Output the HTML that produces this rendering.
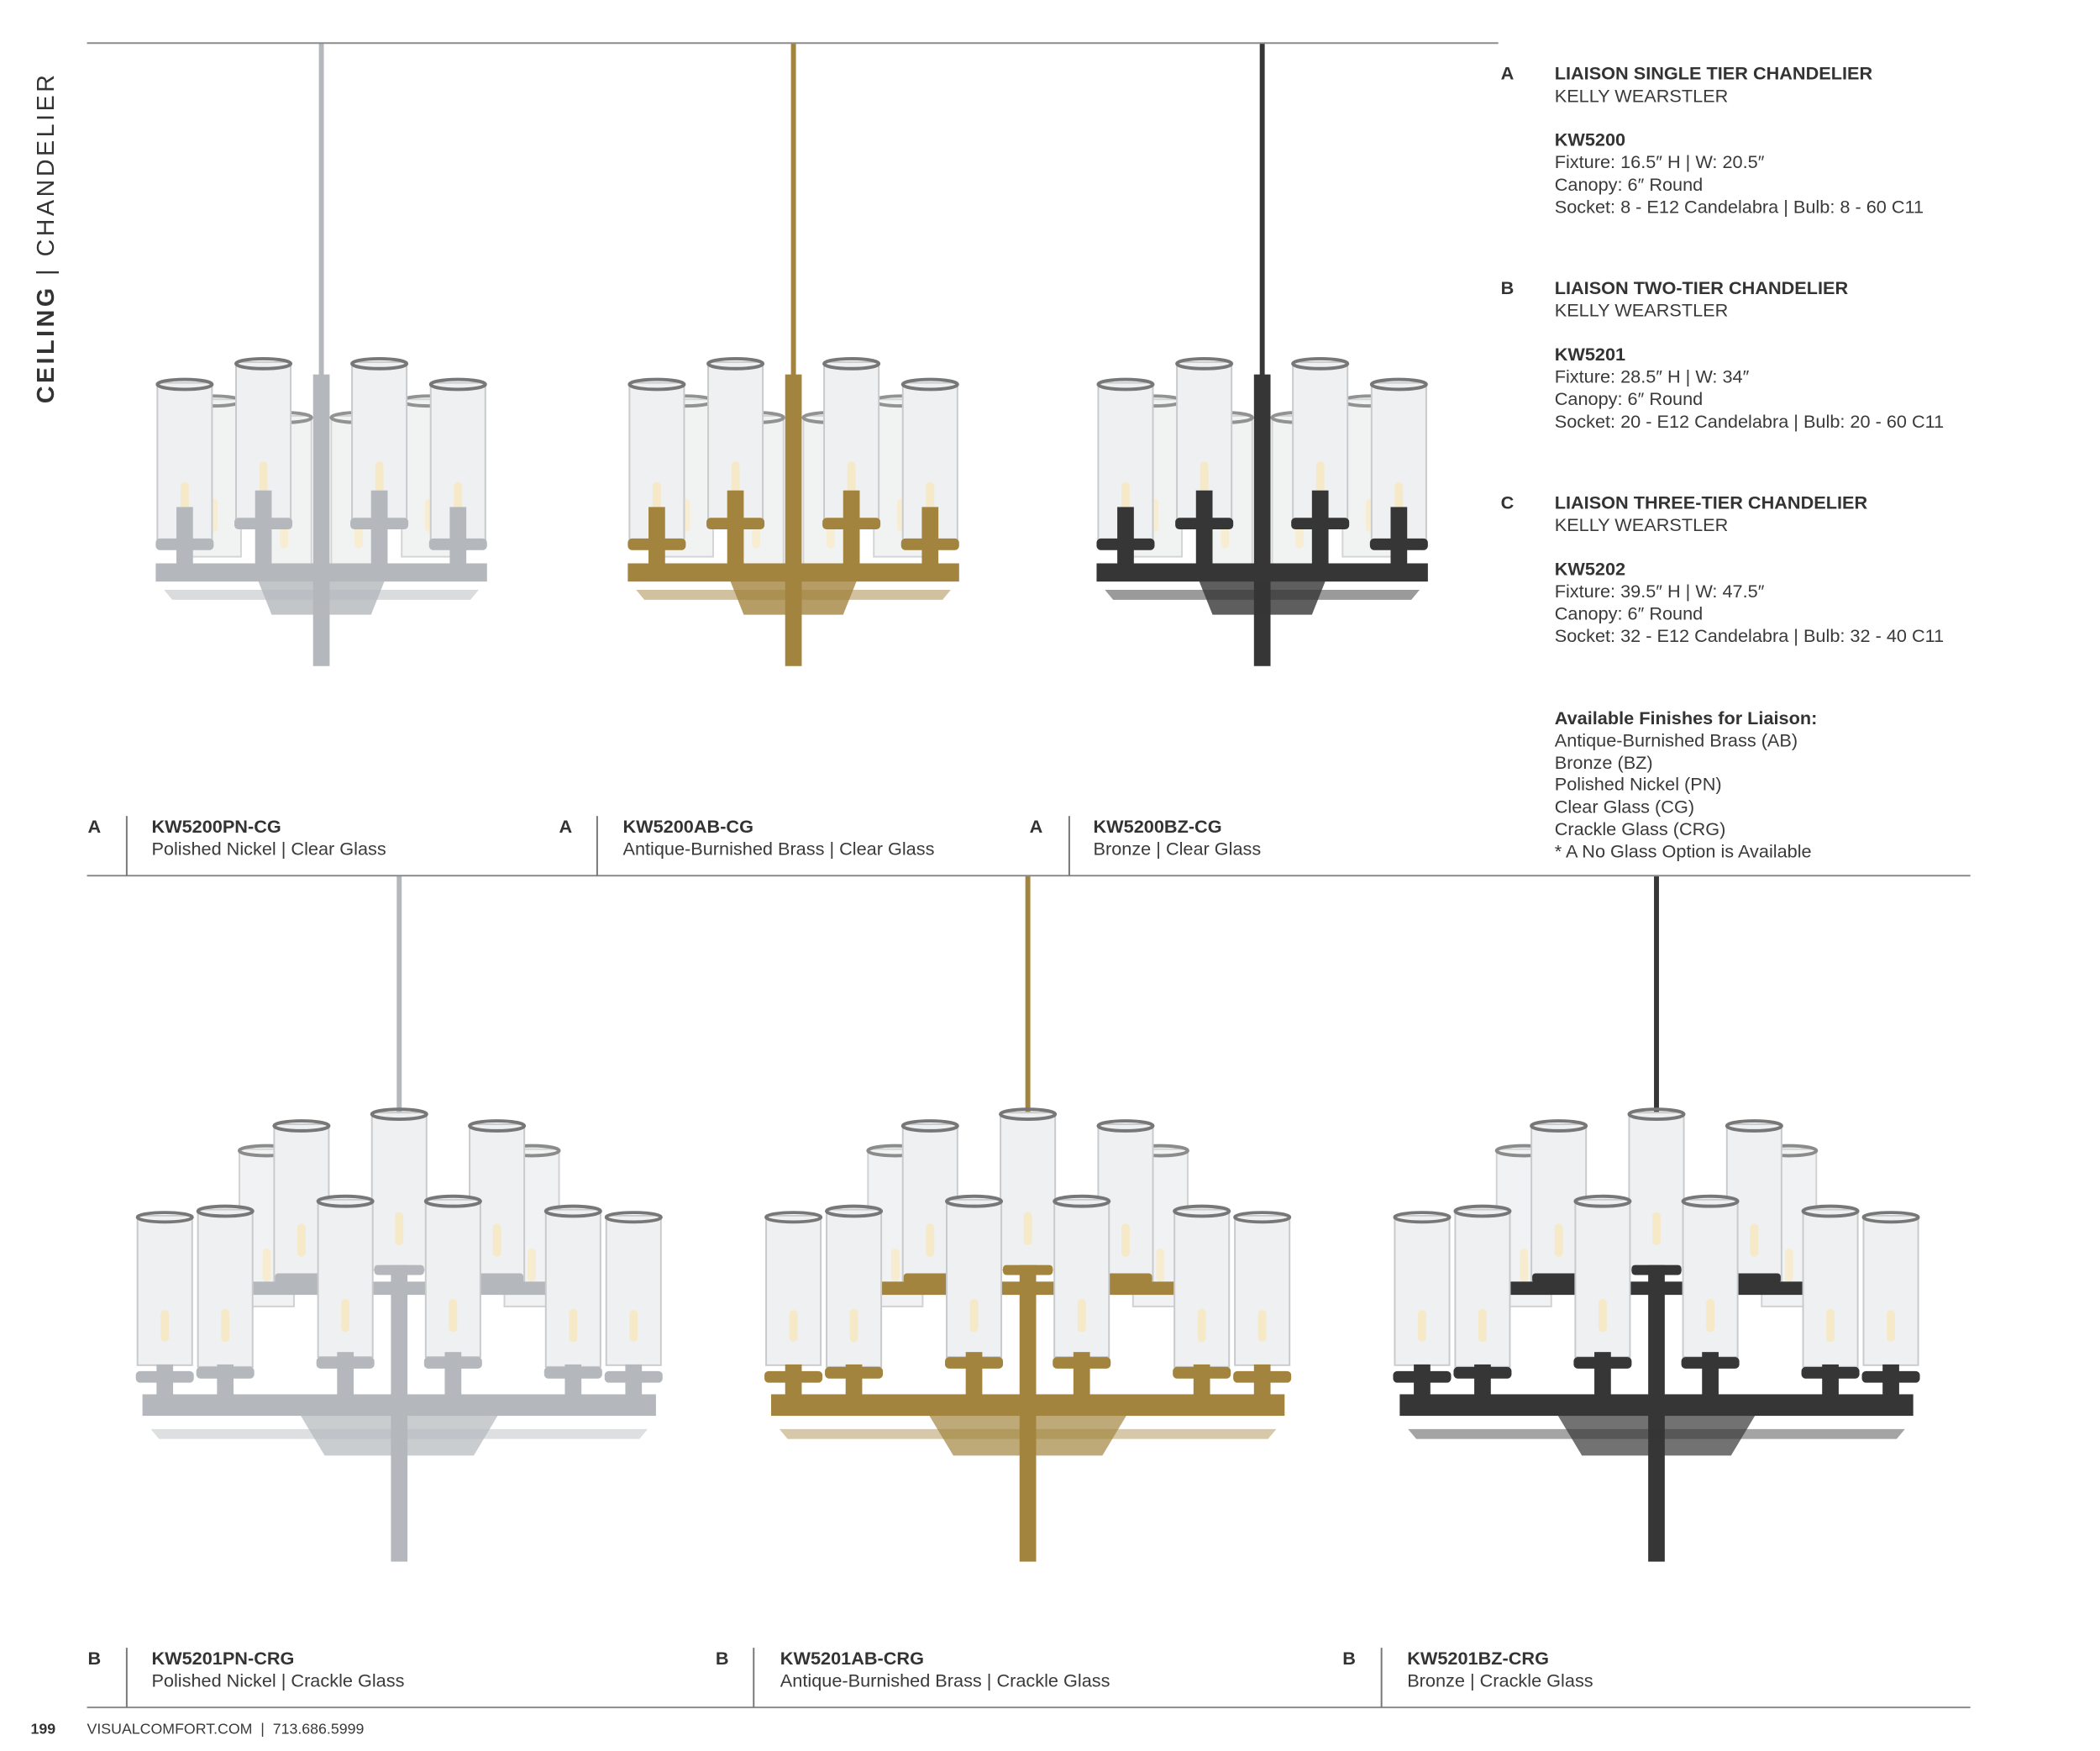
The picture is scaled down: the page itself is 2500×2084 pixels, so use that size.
<!DOCTYPE html>
<html><head><meta charset="utf-8"><style>
body{margin:0;width:2500px;height:2084px;background:#fff;position:relative;overflow:hidden;font-family:"Liberation Sans",sans-serif;color:#3a3a3a}
#w{position:absolute;left:0;top:0;width:2536px;height:2114px;transform:scale(0.986);transform-origin:0 0}
.t{position:absolute;font-size:22px;line-height:26.8px;white-space:nowrap}
b{font-weight:bold;color:#333}
.hl{position:absolute;height:2px;background:#8a8a8a}
.vl{position:absolute;width:2px;background:#777}
svg{position:absolute;left:0;top:0}
</style></head><body><div id="w">
<svg width="2536" height="2114" viewBox="0 0 2536 2114">
<defs>
<g id="cyl">
<rect x="-33" y="0" width="66" height="190" fill="#eef0f1" stroke="#c8cacc" stroke-width="2"/>
<ellipse cx="0" cy="2" rx="33" ry="6" fill="none" stroke="#777" stroke-width="4"/>
<rect x="-5" y="120" width="10" height="40" rx="5" fill="#f6e9c8"/>
</g>
<g id="A">
<rect x="-3" y="0" width="6" height="420" fill="currentColor"/>
<use href="#cyl" x="-130" y="430" opacity="0.8"/>
<use href="#cyl" x="-45" y="450" opacity="0.8"/>
<use href="#cyl" x="45" y="450" opacity="0.8"/>
<use href="#cyl" x="130" y="430" opacity="0.8"/>
<rect x="-10" y="400" width="20" height="352" fill="currentColor"/>
<polygon points="-190,660 190,660 180,672 -180,672" fill="currentColor" opacity="0.5"/>
<polygon points="-80,640 80,640 60,690 -60,690" fill="currentColor" opacity="0.8"/>
<rect x="-200" y="628" width="400" height="22" fill="currentColor"/>
<use href="#cyl" x="-165" y="410"/>
<use href="#cyl" x="-70" y="385"/>
<use href="#cyl" x="70" y="385"/>
<use href="#cyl" x="165" y="410"/>
<g fill="currentColor">
<rect x="-200" y="598" width="70" height="14" rx="5"/><rect x="-175" y="560" width="20" height="70"/>
<rect x="-105" y="573" width="70" height="14" rx="5"/><rect x="-80" y="540" width="20" height="90"/>
<rect x="35" y="573" width="70" height="14" rx="5"/><rect x="60" y="540" width="20" height="90"/>
<rect x="130" y="598" width="70" height="14" rx="5"/><rect x="155" y="560" width="20" height="70"/>
</g>
</g>
<g id="B">
<rect x="-3" y="0" width="6" height="290" fill="currentColor"/>
<use href="#cyl" x="-160" y="330" opacity="0.85"/>
<use href="#cyl" x="160" y="330" opacity="0.85"/>
<use href="#cyl" x="-118" y="300"/>
<use href="#cyl" x="118" y="300"/>
<use href="#cyl" x="0" y="286"/>
<rect x="-10" y="470" width="20" height="358" fill="currentColor"/>
<g fill="currentColor">
<rect x="-180" y="490" width="360" height="16"/>
<rect x="-150" y="480" width="60" height="12" rx="4"/><rect x="-30" y="470" width="60" height="12" rx="4"/><rect x="90" y="480" width="60" height="12" rx="4"/>
</g>
<polygon points="-300,668 300,668 290,680 -290,680" fill="currentColor" opacity="0.45"/>
<polygon points="-120,650 120,650 90,700 -90,700" fill="currentColor" opacity="0.7"/>
<use href="#cyl" x="-283" y="432" transform="scale(1,0.95)" />
<use href="#cyl" x="283" y="432" transform="scale(1,0.95)"/>
<use href="#cyl" x="-210" y="403"/>
<use href="#cyl" x="210" y="403"/>
<use href="#cyl" x="-65" y="391"/>
<use href="#cyl" x="65" y="391"/>
<rect x="-310" y="626" width="620" height="26" fill="currentColor"/>
<g fill="currentColor">
<rect x="-318" y="598" width="70" height="14" rx="5"/><rect x="-293" y="590" width="20" height="40"/>
<rect x="-245" y="593" width="70" height="14" rx="5"/><rect x="-220" y="590" width="20" height="40"/>
<rect x="-100" y="581" width="70" height="14" rx="5"/><rect x="-75" y="575" width="20" height="55"/>
<rect x="30" y="581" width="70" height="14" rx="5"/><rect x="55" y="575" width="20" height="55"/>
<rect x="175" y="593" width="70" height="14" rx="5"/><rect x="200" y="590" width="20" height="40"/>
<rect x="248" y="598" width="70" height="14" rx="5"/><rect x="273" y="590" width="20" height="40"/>
</g>
</g>
</defs>
<use href="#A" x="388" y="52" style="color:#b4b8bc"/>
<use href="#A" x="958" y="52" style="color:#a3843f"/>
<use href="#A" x="1524" y="52" style="color:#363636"/>
<use href="#B" x="482" y="1057" style="color:#b4b8bc"/>
<use href="#B" x="1241" y="1057" style="color:#a3843f"/>
<use href="#B" x="2000" y="1057" style="color:#363636"/>
</svg>

<div class="hl" style="left:105px;top:51px;width:1704px"></div>
<div class="hl" style="left:105px;top:1056px;width:2274px"></div>
<div class="hl" style="left:105px;top:2060px;width:2274px"></div>

<div style="position:absolute;left:40px;top:487px;transform:rotate(-90deg);transform-origin:0 0;font-size:29px;letter-spacing:3.6px;white-space:nowrap;color:#333"><b>CEILING</b> | CHANDELIER</div>

<div class="t" style="left:1812px;top:76px"><b>A</b></div>
<div class="t" style="left:1877px;top:76px"><b>LIAISON SINGLE TIER CHANDELIER</b><br>KELLY WEARSTLER<br><br><b>KW5200</b><br>Fixture: 16.5″ H | W: 20.5″<br>Canopy: 6″ Round<br>Socket: 8 - E12 Candelabra | Bulb: 8 - 60 C11</div>
<div class="t" style="left:1812px;top:335px"><b>B</b></div>
<div class="t" style="left:1877px;top:335px"><b>LIAISON TWO-TIER CHANDELIER</b><br>KELLY WEARSTLER<br><br><b>KW5201</b><br>Fixture: 28.5″ H | W: 34″<br>Canopy: 6″ Round<br>Socket: 20 - E12 Candelabra | Bulb: 20 - 60 C11</div>
<div class="t" style="left:1812px;top:594px"><b>C</b></div>
<div class="t" style="left:1877px;top:594px"><b>LIAISON THREE-TIER CHANDELIER</b><br>KELLY WEARSTLER<br><br><b>KW5202</b><br>Fixture: 39.5″ H | W: 47.5″<br>Canopy: 6″ Round<br>Socket: 32 - E12 Candelabra | Bulb: 32 - 40 C11</div>
<div class="t" style="left:1877px;top:854px"><b>Available Finishes for Liaison:</b><br>Antique-Burnished Brass (AB)<br>Bronze (BZ)<br>Polished Nickel (PN)<br>Clear Glass (CG)<br>Crackle Glass (CRG)<br>* A No Glass Option is Available</div>

<div class="t" style="left:106px;top:985px"><b>A</b></div>
<div class="vl" style="left:152px;top:985px;height:72px"></div>
<div class="t" style="left:183px;top:985px"><b>KW5200PN-CG</b><br>Polished Nickel | Clear Glass</div>
<div class="t" style="left:675px;top:985px"><b>A</b></div>
<div class="vl" style="left:720px;top:985px;height:72px"></div>
<div class="t" style="left:752px;top:985px"><b>KW5200AB-CG</b><br>Antique-Burnished Brass | Clear Glass</div>
<div class="t" style="left:1243px;top:985px"><b>A</b></div>
<div class="vl" style="left:1290px;top:985px;height:72px"></div>
<div class="t" style="left:1320px;top:985px"><b>KW5200BZ-CG</b><br>Bronze | Clear Glass</div>

<div class="t" style="left:106px;top:1989px"><b>B</b></div>
<div class="vl" style="left:152px;top:1989px;height:72px"></div>
<div class="t" style="left:183px;top:1989px"><b>KW5201PN-CRG</b><br>Polished Nickel | Crackle Glass</div>
<div class="t" style="left:864px;top:1989px"><b>B</b></div>
<div class="vl" style="left:909px;top:1989px;height:72px"></div>
<div class="t" style="left:942px;top:1989px"><b>KW5201AB-CRG</b><br>Antique-Burnished Brass | Crackle Glass</div>
<div class="t" style="left:1621px;top:1989px"><b>B</b></div>
<div class="vl" style="left:1667px;top:1989px;height:72px"></div>
<div class="t" style="left:1699px;top:1989px"><b>KW5201BZ-CRG</b><br>Bronze | Crackle Glass</div>

<div class="t" style="left:37px;top:2074px;font-size:18px"><b>199</b></div>
<div class="t" style="left:105px;top:2074px;font-size:18px">VISUALCOMFORT.COM &nbsp;|&nbsp; 713.686.5999</div>
</div></body></html>
